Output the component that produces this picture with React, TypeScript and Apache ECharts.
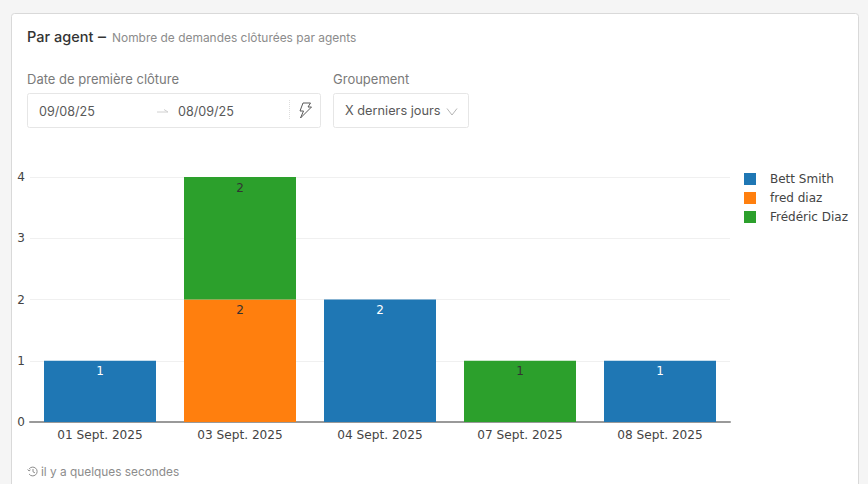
import React, { useEffect, useRef } from "react";
import * as echarts from "echarts";

const categories = ["01 Sept. 2025", "03 Sept. 2025", "04 Sept. 2025", "07 Sept. 2025", "08 Sept. 2025"];
const bettSmith = [1, null, 2, null, 1];
const fredDiaz = [null, 2, null, null, null];
const fredericDiaz = [null, 2, null, 1, null];
const seriesNames = ["Bett Smith", "fred diaz", "Frédéric Diaz"];
const colors = ["#1f77b4", "#ff7f0e", "#2ca02c"];
const labelColors = ["#ffffff", "#333333", "#333333"];

const UI = "Inter, 'Noto Sans', sans-serif";
const CHART = "'DejaVu Sans', Verdana, sans-serif";

echarts.graphic.registerShape(
  "bolt",
  echarts.graphic.extendPath("M5 0L12.5 0L10 4L13.5 4L2.5 15L5.5 8L2 8Z", {}) as any
);
echarts.graphic.registerShape(
  "clockBack",
  echarts.graphic.extendPath(
    "M1.6 3A4.4 4.4 0 1 1 1.6 8M0.2 3.4L1.5 5L3 3.8M5.5 3L5.5 5.8L7.4 6.8",
    {}
  ) as any
);

const text = (x: number, y: number, t: string, size: number, fill: string, weight: any = 400) => ({
  type: "text",
  x,
  y,
  silent: true,
  style: { text: t, fontFamily: UI, fontSize: size, fill, fontWeight: weight, textVerticalAlign: "middle" },
});

const box = (x: number, y: number, width: number, height: number) => ({
  type: "rect",
  silent: true,
  shape: { x: x + 0.5, y: y + 0.5, width, height, r: 2 },
  style: { fill: "#ffffff", stroke: "#e6e6e6", lineWidth: 1 },
});

export default function App() {
  const ref = useRef<HTMLDivElement>(null);
  useEffect(() => {
    document.body.style.margin = "0";
    const chart = echarts.init(ref.current!, undefined, { renderer: "svg" });
    const values = [bettSmith, fredDiaz, fredericDiaz];
    chart.setOption({
      animation: false,
      backgroundColor: "#f5f5f5",
      grid: { left: 30, right: 138, top: 177, height: 245 },
      legend: {
        orient: "vertical",
        left: 744,
        top: 173,
        padding: 0,
        itemWidth: 12,
        itemHeight: 12,
        itemGap: 7,
        icon: "rect",
        data: seriesNames,
        textStyle: { fontFamily: CHART, fontSize: 12, color: "#444444", padding: [0, 0, 0, 9] },
      },
      xAxis: {
        type: "category",
        data: categories,
        axisTick: { show: false },
        axisLine: { lineStyle: { color: "#999999", width: 2 } },
        axisLabel: { fontFamily: CHART, fontSize: 12.15, color: "#444444", margin: 7, interval: 0 },
      },
      yAxis: {
        type: "value",
        min: 0,
        max: 4,
        interval: 1,
        axisTick: { show: false },
        axisLine: { show: false },
        axisLabel: { fontFamily: CHART, fontSize: 12, color: "#444444", margin: 5 },
        splitLine: { lineStyle: { color: "#f0f0f0", width: 1 } },
      },
      series: seriesNames.map((name, i) => ({
        name,
        type: "bar",
        stack: "total",
        data: values[i],
        barCategoryGap: "20%",
        itemStyle: { color: colors[i] },
        label: {
          show: true,
          position: "insideTop",
          distance: 4.5,
          fontFamily: CHART,
          fontSize: 12,
          color: labelColors[i],
        },
      })),
      graphic: {
        elements: [
          {
            type: "rect",
            silent: true,
            z: -1,
            shape: { x: 11.5, y: 13.5, width: 847, height: 480, r: 3 },
            style: { fill: "#ffffff", stroke: "#d9d9d9", lineWidth: 1 },
          },
          text(27, 36, "Par agent", 14.5, "#333333", 500),
          text(98, 36, "–", 16, "#333333", 500),
          text(112, 37, "Nombre de demandes clôturées par agents", 11.95, "#8c8c8c"),
          text(27, 79, "Date de première clôture", 13, "#7a7a7a"),
          text(333, 79, "Groupement", 13, "#7a7a7a"),
          box(27, 93, 293, 34),
          box(333, 93, 135, 34),
          text(39, 111, "09/08/25", 12.6, "#595959"),
          text(178, 111, "08/09/25", 12.6, "#595959"),
          text(345, 110, "X derniers jours", 12.75, "#595959"),
          {
            type: "polyline",
            silent: true,
            shape: { points: [[157, 112], [168, 112], [164, 109.5]] },
            style: { fill: "none", stroke: "#d0d0d0", lineWidth: 1 },
          },
          {
            type: "line",
            silent: true,
            shape: { x1: 289.5, y1: 100, x2: 289.5, y2: 120 },
            style: { stroke: "#dddddd", lineWidth: 1, lineDash: [1, 1] },
          },
          {
            type: "bolt",
            silent: true,
            x: 298,
            y: 103,
            style: { fill: "none", stroke: "#595959", lineWidth: 1 },
          },
          {
            type: "polyline",
            silent: true,
            shape: { points: [[447, 108.5], [452, 115], [457, 108.5]] },
            style: { fill: "none", stroke: "#b5b5b5", lineWidth: 1 },
          },
          {
            type: "clockBack",
            silent: true,
            x: 27.5,
            y: 466,
            style: { fill: "none", stroke: "#8c8c8c", lineWidth: 1 },
          },
          text(41, 472, "il y a quelques secondes", 11.85, "#8c8c8c"),
        ],
      },
    });
    return () => chart.dispose();
  }, []);
  return <div ref={ref} style={{ width: 868, height: 484 }} />;
}
